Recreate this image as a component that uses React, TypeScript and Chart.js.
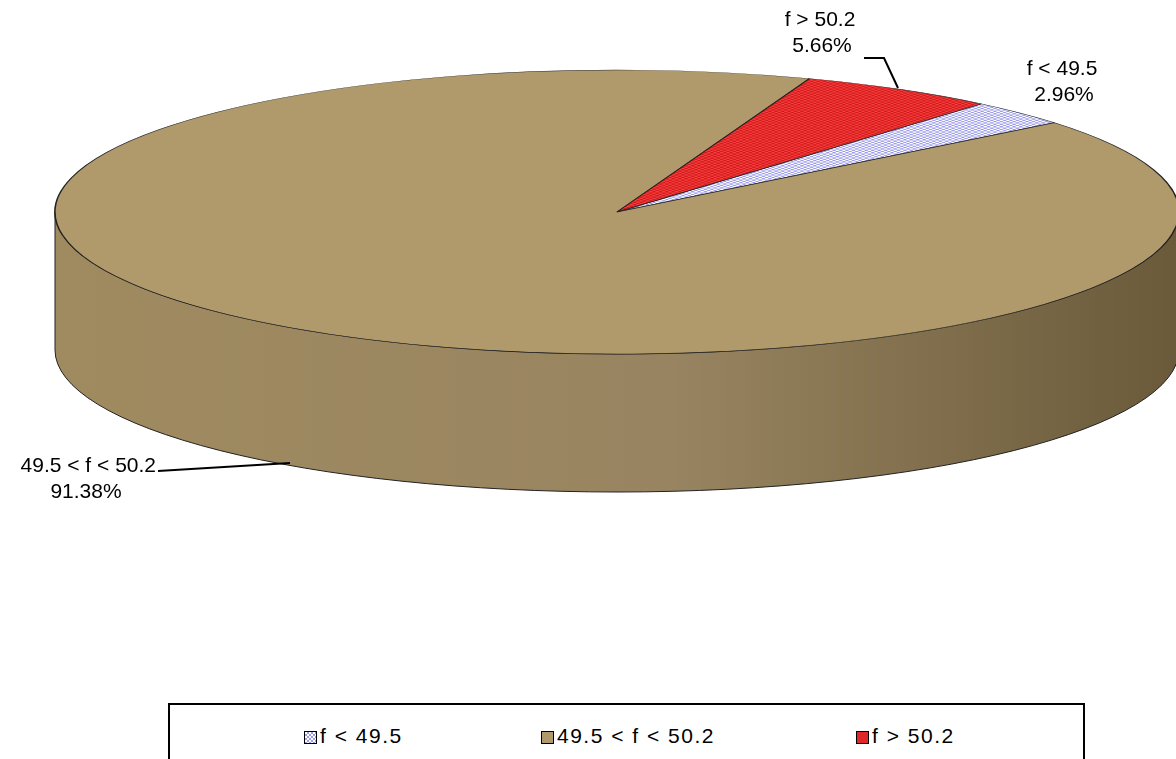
import React, { useRef, useEffect } from 'react';
import Chart from 'chart.js/auto';

const categories = ['f < 49.5', '49.5 < f < 50.2', 'f > 50.2'];
const shares = [2.96, 91.38, 5.66];

const CX = 617, CY = 212, RX = 562, RY = 142, DEPTH = 138;

function makePattern(a: string, b: string, size: number) {
  const c = document.createElement('canvas');
  c.width = size * 2; c.height = size * 2;
  const g = c.getContext('2d')!;
  g.fillStyle = a; g.fillRect(0, 0, size * 2, size * 2);
  g.fillStyle = b; g.fillRect(0, 0, size, size); g.fillRect(size, size, size, size);
  return g.createPattern(c, 'repeat')!;
}

const App: React.FC = () => {
  const canvasRef = useRef<HTMLCanvasElement | null>(null);

  useEffect(() => {
    document.body.style.margin = '0';
    if (!canvasRef.current) return;
    const ctx0 = canvasRef.current.getContext('2d')!;
    const blue = makePattern('#ffffff', '#9c9ce8', 2);
    const red = makePattern('#f04040', '#d81818', 2);

    const tilt = {
      id: 'tilt',
      beforeDatasetsDraw(chart: any) {
        const ctx = chart.ctx;
        // side wall
        ctx.save();
        const g = ctx.createLinearGradient(CX - RX, 0, CX + RX, 0);
        g.addColorStop(0, '#a08b60');
        g.addColorStop(0.55, '#988460');
        g.addColorStop(1, '#6a5a3a');
        ctx.beginPath();
        ctx.moveTo(CX + RX, CY);
        ctx.ellipse(CX, CY, RX, RY, 0, 0, Math.PI);
        ctx.lineTo(CX - RX, CY + DEPTH);
        ctx.ellipse(CX, CY + DEPTH, RX, RY, 0, Math.PI, 0, true);
        ctx.closePath();
        ctx.fillStyle = g;
        ctx.fill();
        ctx.strokeStyle = '#222';
        ctx.lineWidth = 1;
        ctx.stroke();
        ctx.restore();
        const arc = chart.getDatasetMeta(0).data[0];
        const r = arc.outerRadius;
        ctx.save();
        ctx.translate(CX, CY);
        ctx.scale(RX / r, RY / r);
        ctx.translate(-arc.x, -arc.y);
      },
      afterDatasetsDraw(chart: any) {
        chart.ctx.restore();
      },
      afterDraw(chart: any) {
        const ctx = chart.ctx;
        ctx.save();
        ctx.font = '21px "Liberation Sans", Arial, sans-serif';
        ctx.fillStyle = '#000';
        ctx.textAlign = 'center';
        ctx.textBaseline = 'middle';
        const fmt = (i: number) => shares[i].toFixed(2) + '%';
        ctx.fillText(categories[2], 820, 20);
        ctx.fillText(fmt(2), 822, 46);
        ctx.fillText(categories[0], 1062, 69);
        ctx.fillText(fmt(0), 1064, 95);
        ctx.textAlign = 'right';
        ctx.fillText(categories[1], 156, 466);
        ctx.textAlign = 'center';
        ctx.fillText(fmt(1), 86, 492);
        ctx.strokeStyle = '#000';
        ctx.lineWidth = 2;
        ctx.beginPath();
        ctx.moveTo(864, 58); ctx.lineTo(884, 58); ctx.lineTo(898, 88);
        ctx.moveTo(158, 471); ctx.lineTo(290, 463);
        ctx.stroke();
        ctx.restore();
      },
    };

    const chart = new Chart(ctx0, {
      type: 'pie',
      data: {
        labels: categories,
        datasets: [{
          data: shares,
          backgroundColor: [blue as any, '#b09a6c', red as any],
          borderColor: '#222',
          borderWidth: 1,
        }],
      },
      options: {
        responsive: false,
        animation: false,
        rotation: 40.4,
        plugins: { legend: { display: false }, tooltip: { enabled: false } },
      },
      plugins: [tilt],
    });
    return () => chart.destroy();
  }, []);

  const sw = (bg: string) => ({
    display: 'inline-block', width: 11, height: 11, border: '1px solid #000',
    background: bg, marginRight: 3, verticalAlign: 'middle',
  });

  return (
    <div style={{ position: 'relative', width: 1176, height: 759, overflow: 'hidden', background: '#fff' }}>
      <canvas ref={canvasRef} width={1176} height={700} style={{ position: 'absolute', left: 0, top: 0 }} />
      <div style={{
        position: 'absolute', left: 168, top: 703, width: 913, height: 70, border: '2px solid #000',
        fontFamily: '"Liberation Sans", Arial, sans-serif', fontSize: 21, letterSpacing: 1.5,
      }}>
        <span style={{ position: 'absolute', left: 134, top: 19 }}>
          <span style={sw('repeating-conic-gradient(#9c9ce8 0 25%, #fff 0 50%) 0 0/4px 4px')} />{categories[0]}
        </span>
        <span style={{ position: 'absolute', left: 371, top: 19 }}>
          <span style={sw('#b09a6c')} />{categories[1]}
        </span>
        <span style={{ position: 'absolute', left: 686, top: 19 }}>
          <span style={sw('#e02828')} />{categories[2]}
        </span>
      </div>
    </div>
  );
};

export default App;
